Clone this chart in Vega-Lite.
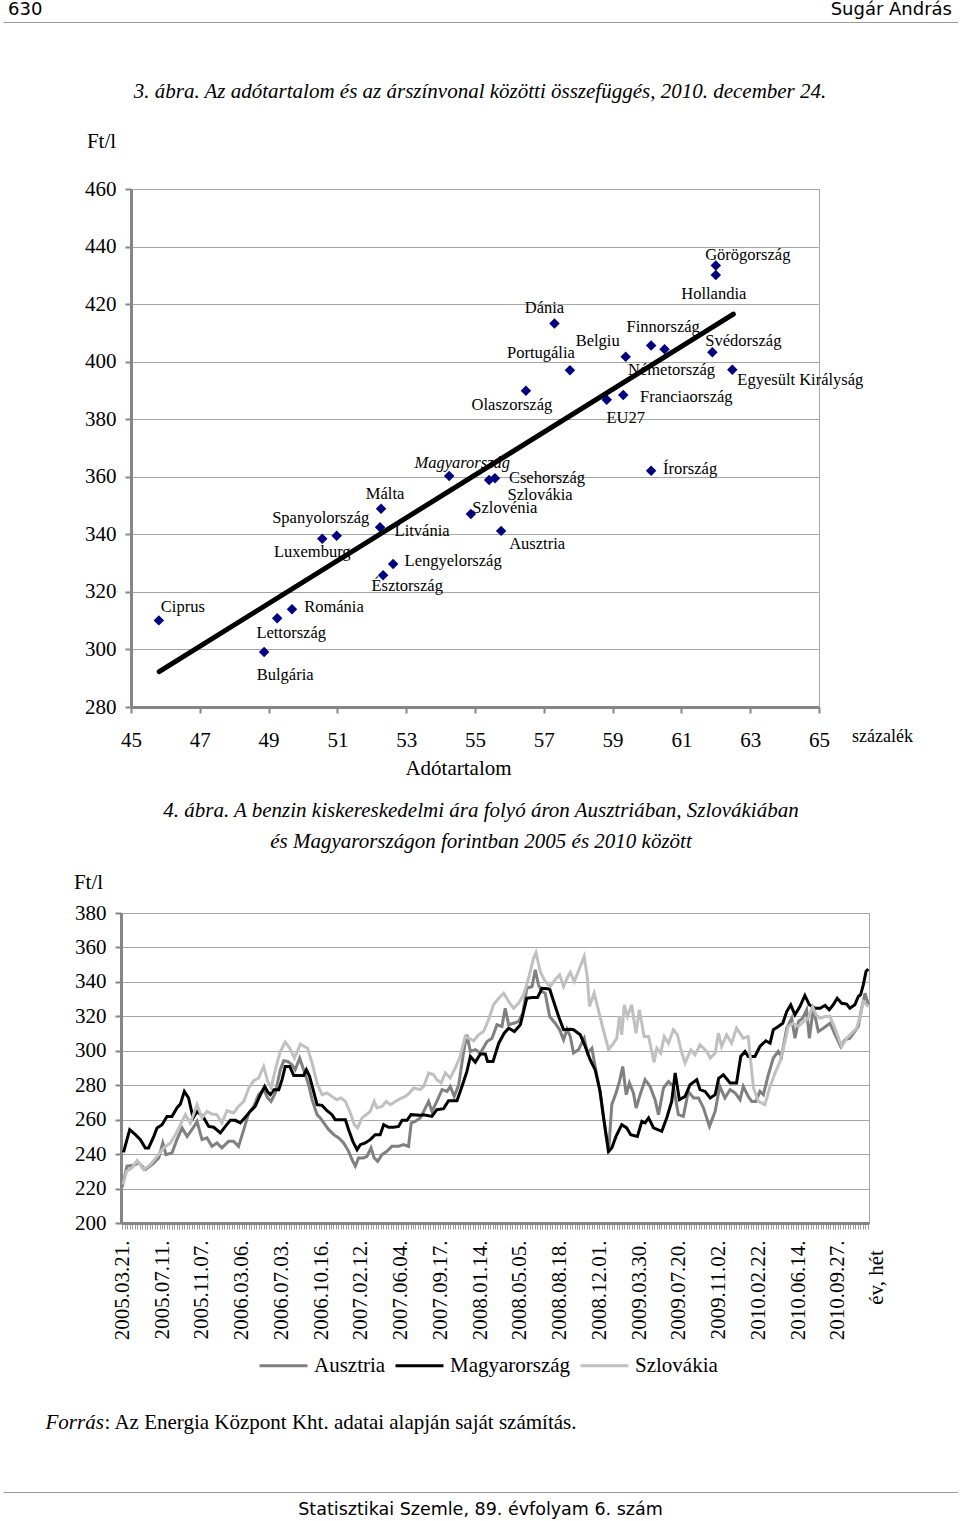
{
"$schema":"https://vega.github.io/schema/vega-lite/v6.json",
"background":"white",
"padding":{"left":3,"top":0,"right":0,"bottom":0},
"spacing":0,
"config":{
 "view":{"stroke":null},
 "axis":{"labelFont":"Liberation Serif","titleFont":"Liberation Serif","labelColor":"#000","titleColor":"#000","titleFontWeight":"normal","labelFontSize":21,"titleFontSize":21,"domainColor":"#868686","tickColor":"#868686","gridColor":"#a6a6a6","gridWidth":1},
 "title":{"font":"Liberation Serif","fontWeight":"normal","color":"#000","fontSize":21,"fontStyle":"italic"},
 "text":{"font":"Liberation Serif","fontSize":16.5,"color":"#000","baseline":"middle","align":"center"},
 "legend":{"labelFont":"Liberation Serif","labelFontSize":21,"labelColor":"#000"}
},
"datasets":{
 "trend":[{"x":45.82,"y":292.3},{"x":62.51,"y":416.5}],
 "countries":[
  {"c":"Ciprus","x":45.81,"y":310.1},{"c":"Lettország","x":49.25,"y":310.8},{"c":"Románia","x":49.68,"y":314.0},{"c":"Bulgária","x":48.87,"y":299.1},
  {"c":"Luxemburg","x":50.56,"y":338.5},{"c":"Spanyolország","x":50.98,"y":339.5},{"c":"Málta","x":52.27,"y":348.9},{"c":"Litvánia","x":52.24,"y":342.5},
  {"c":"Lengyelország","x":52.62,"y":329.7},{"c":"Észtország","x":52.33,"y":325.8},{"c":"Magyarország","x":54.25,"y":360.3},{"c":"Szlovénia","x":54.88,"y":347.1},
  {"c":"Szlovákia","x":55.41,"y":358.9},{"c":"Csehország","x":55.58,"y":359.5},{"c":"Ausztria","x":55.76,"y":341.2},{"c":"Írország","x":60.12,"y":362.1},
  {"c":"Görögország","x":62.0,"y":433.4},{"c":"Hollandia","x":62.0,"y":430.1},{"c":"Dánia","x":57.31,"y":413.3},{"c":"Portugália","x":57.76,"y":397.0},
  {"c":"Olaszország","x":56.48,"y":389.9},{"c":"Belgiu","x":59.38,"y":401.7},{"c":"Finnország","x":60.12,"y":405.6},{"c":"Németország","x":60.51,"y":404.3},
  {"c":"Svédország","x":61.9,"y":403.3},{"c":"Egyesült Királyság","x":62.48,"y":397.2},{"c":"EU27","x":58.83,"y":386.8},{"c":"Franciaország","x":59.31,"y":388.4}
 ],
 "aut":[{"i":0,"v":221},{"i":1.9,"v":233},{"i":4.6,"v":233.5},{"i":6.6,"v":234.9},{"i":9.3,"v":231},{"i":12,"v":233.9},{"i":14.7,"v":237.8},{"i":16.3,"v":246.5},{"i":17.6,"v":239.7},{"i":20,"v":240.7},{"i":22,"v":248.4},{"i":24.1,"v":255.2},{"i":26.1,"v":250.3},{"i":28.5,"v":255.2},{"i":30.1,"v":259},{"i":32.1,"v":248.4},{"i":34.1,"v":249.4},{"i":36.1,"v":244.5},{"i":38.1,"v":246.5},{"i":40.1,"v":243.6},{"i":42.8,"v":247.4},{"i":44.8,"v":247.4},{"i":46.8,"v":244.5},{"i":48.9,"v":254.2},{"i":50.9,"v":263.9},{"i":52.9,"v":267.7},{"i":54.9,"v":274.5},{"i":56.9,"v":277.4},{"i":58.6,"v":272.5},{"i":59.9,"v":270.6},{"i":61.6,"v":275.5},{"i":63.6,"v":289},{"i":65,"v":294.2},{"i":66.6,"v":293.8},{"i":68.3,"v":291.9},{"i":69.6,"v":289},{"i":71.4,"v":295.7},{"i":73,"v":289},{"i":75,"v":280.3},{"i":76.4,"v":271.6},{"i":78.4,"v":262.9},{"i":79.7,"v":261},{"i":81.1,"v":258.1},{"i":83.1,"v":254.2},{"i":85.1,"v":251.3},{"i":87.1,"v":249.4},{"i":89.1,"v":246.5},{"i":91.1,"v":241.6},{"i":92.8,"v":235.8},{"i":93.8,"v":233},{"i":95.1,"v":237.8},{"i":97.1,"v":237.8},{"i":98.5,"v":238.7},{"i":100.1,"v":243.6},{"i":101.4,"v":237.8},{"i":102.8,"v":235.8},{"i":104.5,"v":239.7},{"i":106.5,"v":241.6},{"i":108.5,"v":244.5},{"i":111.2,"v":244.5},{"i":113.2,"v":245.5},{"i":115.2,"v":244.5},{"i":116.3,"v":258.1},{"i":117.9,"v":259},{"i":119.9,"v":261},{"i":121.3,"v":264.8},{"i":123.3,"v":270.6},{"i":124.6,"v":264.8},{"i":126.6,"v":270.6},{"i":128.7,"v":277.4},{"i":130.7,"v":276.4},{"i":132,"v":279.3},{"i":133.6,"v":273.5},{"i":135.4,"v":280.3},{"i":137.4,"v":299.6},{"i":138.7,"v":309.3},{"i":140.1,"v":299.6},{"i":142.1,"v":300.6},{"i":144.1,"v":298.7},{"i":146.8,"v":305.4},{"i":148.8,"v":307.3},{"i":150.8,"v":315.1},{"i":152.8,"v":314.1},{"i":154.1,"v":324.7},{"i":155.5,"v":315.1},{"i":157.5,"v":316},{"i":159.5,"v":317},{"i":161.2,"v":321.8},{"i":162.8,"v":336.3},{"i":164.9,"v":337.3},{"i":166.2,"v":347},{"i":167.5,"v":338.3},{"i":168.9,"v":334.4},{"i":170.2,"v":333.4},{"i":172,"v":319.9},{"i":174.2,"v":316},{"i":176,"v":312.2},{"i":177.6,"v":306.4},{"i":179,"v":312.5},{"i":180.3,"v":308.3},{"i":181.6,"v":298.7},{"i":183.6,"v":300.6},{"i":185.9,"v":307.3},{"i":187.2,"v":298.7},{"i":189,"v":301.5},{"i":190.3,"v":290.9},{"i":192,"v":278.4},{"i":193.9,"v":259},{"i":195.7,"v":240.7},{"i":197,"v":268.7},{"i":198.7,"v":275.5},{"i":200.1,"v":282.2},{"i":201.4,"v":290.9},{"i":202.8,"v":274.5},{"i":204.1,"v":281.3},{"i":205.7,"v":275.5},{"i":206.8,"v":266.8},{"i":208.4,"v":274.5},{"i":210.4,"v":283.2},{"i":212.4,"v":279.3},{"i":214.4,"v":271.6},{"i":215.8,"v":262.9},{"i":217.8,"v":278.4},{"i":219.8,"v":282.2},{"i":221.8,"v":279.3},{"i":223.8,"v":262.9},{"i":225.8,"v":261.9},{"i":227.8,"v":276.4},{"i":229.9,"v":272.6},{"i":231.9,"v":272.6},{"i":233.9,"v":266.8},{"i":236.3,"v":256.1},{"i":238.6,"v":264.8},{"i":239.3,"v":270.6},{"i":240.5,"v":279.3},{"i":242.5,"v":272.6},{"i":244.6,"v":277.4},{"i":246.6,"v":275.5},{"i":248.6,"v":271.6},{"i":249.9,"v":279.3},{"i":251.9,"v":273.5},{"i":253.3,"v":270.6},{"i":255,"v":270.6},{"i":256.6,"v":276.4},{"i":258,"v":274.5},{"i":260,"v":286.1},{"i":262,"v":295.8},{"i":264,"v":299.6},{"i":265.3,"v":296.7},{"i":267.4,"v":313.1},{"i":269.4,"v":318.9},{"i":270.7,"v":307.3},{"i":272.1,"v":317},{"i":273.8,"v":318.9},{"i":275.4,"v":323.8},{"i":276.5,"v":307.3},{"i":278.1,"v":324.7},{"i":280.1,"v":311.2},{"i":282.1,"v":313.1},{"i":284.8,"v":316},{"i":287.2,"v":308.3},{"i":289.1,"v":302.5},{"i":290.8,"v":306.4},{"i":292.8,"v":307.3},{"i":294.8,"v":311.2},{"i":296.2,"v":314.1},{"i":297.5,"v":324.7},{"i":298.9,"v":333.4},{"i":300.2,"v":326.7}],
 "hun":[{"i":0.5,"v":241},{"i":3,"v":254.2},{"i":5.3,"v":251.3},{"i":7.3,"v":248.4},{"i":9.3,"v":243.6},{"i":10.6,"v":243.6},{"i":12.7,"v":250.3},{"i":14,"v":255.2},{"i":16,"v":257.1},{"i":18,"v":261.9},{"i":20,"v":261.9},{"i":22,"v":266.8},{"i":23.4,"v":269.1},{"i":25,"v":276.4},{"i":26.7,"v":272.6},{"i":28.5,"v":261},{"i":30.1,"v":264.8},{"i":32.5,"v":261.9},{"i":34.8,"v":256.1},{"i":36.8,"v":255.6},{"i":39.5,"v":252.3},{"i":41.5,"v":256.1},{"i":43.5,"v":259.6},{"i":45.5,"v":259.6},{"i":47.5,"v":258.1},{"i":49.5,"v":261.4},{"i":51.5,"v":264.8},{"i":53.5,"v":267.7},{"i":55.6,"v":274.5},{"i":57.3,"v":279.3},{"i":58.6,"v":276},{"i":59.6,"v":274.5},{"i":61,"v":277.4},{"i":63,"v":277.4},{"i":64.3,"v":283.2},{"i":65.6,"v":290.9},{"i":67.4,"v":290.9},{"i":69,"v":285.7},{"i":73,"v":285.7},{"i":74.1,"v":289},{"i":75.4,"v":285.1},{"i":77,"v":276.4},{"i":78.4,"v":268.7},{"i":80.4,"v":268.3},{"i":82.4,"v":265.2},{"i":84.4,"v":262.9},{"i":85.7,"v":260},{"i":89.8,"v":260},{"i":91.1,"v":254.2},{"i":92.8,"v":247.4},{"i":94.5,"v":242.6},{"i":95.8,"v":245.5},{"i":97.8,"v":246.5},{"i":99.8,"v":248.4},{"i":101.8,"v":251.3},{"i":103.8,"v":251.3},{"i":105.2,"v":257.1},{"i":107.2,"v":255.6},{"i":109.2,"v":255.6},{"i":111.2,"v":256.1},{"i":112.6,"v":259.6},{"i":114.6,"v":259.6},{"i":116.2,"v":262.9},{"i":119.9,"v":262.5},{"i":121.3,"v":262.9},{"i":124.6,"v":261.9},{"i":126.6,"v":265.8},{"i":129.3,"v":266.4},{"i":131.3,"v":271},{"i":134.7,"v":271},{"i":136.7,"v":279.3},{"i":138.7,"v":288},{"i":140.1,"v":296.7},{"i":142.1,"v":293.4},{"i":144.1,"v":298.1},{"i":146.1,"v":298.1},{"i":147,"v":293.8},{"i":149.2,"v":293.8},{"i":151.5,"v":304.4},{"i":153.7,"v":310.2},{"i":155.5,"v":313.1},{"i":157.8,"v":311.2},{"i":160.2,"v":315.1},{"i":162.8,"v":330.5},{"i":164.9,"v":330.9},{"i":167.1,"v":330.9},{"i":168.9,"v":336.3},{"i":172,"v":335.9},{"i":173.6,"v":328.6},{"i":175.6,"v":319.9},{"i":177.6,"v":312.2},{"i":180.3,"v":312.5},{"i":181.6,"v":312.2},{"i":184.3,"v":309.3},{"i":186.3,"v":302.5},{"i":188.3,"v":294.8},{"i":190.3,"v":289},{"i":192.3,"v":276.4},{"i":193.7,"v":261},{"i":195.7,"v":241.6},{"i":197,"v":243.6},{"i":198.7,"v":250.3},{"i":201,"v":257.1},{"i":203,"v":255.2},{"i":204.6,"v":251.3},{"i":207.3,"v":250.3},{"i":209.1,"v":259},{"i":210.4,"v":258.1},{"i":211.8,"v":261},{"i":213.8,"v":255.2},{"i":217.1,"v":253.2},{"i":219.1,"v":261},{"i":221.1,"v":270.6},{"i":222.5,"v":287.1},{"i":224.2,"v":271.6},{"i":226.5,"v":273.5},{"i":228.5,"v":280.3},{"i":231.2,"v":283.2},{"i":232.5,"v":277.4},{"i":234.5,"v":276.4},{"i":236.6,"v":272.6},{"i":238.6,"v":274.5},{"i":240,"v":284},{"i":241.9,"v":286.1},{"i":244.6,"v":281.3},{"i":247.2,"v":281.3},{"i":248.9,"v":296.7},{"i":250.6,"v":299.6},{"i":251.9,"v":296.7},{"i":254.6,"v":296.7},{"i":256.6,"v":302.5},{"i":259,"v":305.8},{"i":260.7,"v":304.4},{"i":262,"v":312.2},{"i":264,"v":314.1},{"i":265.8,"v":316},{"i":267.4,"v":322.8},{"i":269,"v":326.7},{"i":270.7,"v":320.9},{"i":272.7,"v":325.7},{"i":274.7,"v":332.1},{"i":276.5,"v":326.7},{"i":278.8,"v":324.7},{"i":280.8,"v":324.7},{"i":282.8,"v":326.3},{"i":284.5,"v":323.8},{"i":286.1,"v":326.7},{"i":287.7,"v":330.5},{"i":289.5,"v":327.6},{"i":291.5,"v":327.1},{"i":292.8,"v":324.7},{"i":294.8,"v":326.7},{"i":296.2,"v":331.5},{"i":297.1,"v":332.5},{"i":298.2,"v":338.3},{"i":299.3,"v":346},{"i":300.2,"v":347.5}],
 "svk":[{"i":0.3,"v":222.3},{"i":1.7,"v":230},{"i":3.9,"v":232},{"i":6,"v":236.2},{"i":8.6,"v":231},{"i":11.3,"v":233.9},{"i":14,"v":238.7},{"i":16.7,"v":243.6},{"i":19.4,"v":246.5},{"i":21.4,"v":251.3},{"i":23.4,"v":257.1},{"i":25.4,"v":262.9},{"i":27.4,"v":258.1},{"i":30.1,"v":268.7},{"i":32.1,"v":261},{"i":34.1,"v":264.8},{"i":36.1,"v":263.3},{"i":38.1,"v":262.9},{"i":40.1,"v":258.1},{"i":42.2,"v":265.2},{"i":44.8,"v":263.9},{"i":46.8,"v":267.7},{"i":48.9,"v":270.6},{"i":50.9,"v":278.4},{"i":52.9,"v":282.6},{"i":54.9,"v":284.2},{"i":56.9,"v":290.9},{"i":58.6,"v":282},{"i":59.9,"v":278.4},{"i":61.6,"v":289},{"i":63.6,"v":299.6},{"i":65.6,"v":305},{"i":67.4,"v":301.5},{"i":69.3,"v":295.7},{"i":71.7,"v":303.9},{"i":73.3,"v":302.5},{"i":74.6,"v":301.5},{"i":76.4,"v":292.8},{"i":78.4,"v":281.3},{"i":80.4,"v":274.5},{"i":82.4,"v":275.5},{"i":84.4,"v":273.5},{"i":86.4,"v":271.6},{"i":88,"v":272.6},{"i":89.8,"v":270.6},{"i":91.8,"v":263.9},{"i":93.4,"v":257.1},{"i":94.7,"v":255.2},{"i":96.5,"v":261},{"i":98.5,"v":263.3},{"i":99.8,"v":264.8},{"i":101.4,"v":270.6},{"i":102.5,"v":266.8},{"i":104.5,"v":267.7},{"i":106.2,"v":270.6},{"i":107.9,"v":268.7},{"i":109.9,"v":270.6},{"i":111.9,"v":272.2},{"i":113.9,"v":273.5},{"i":115.6,"v":275.5},{"i":117.3,"v":278.4},{"i":119.9,"v":277.4},{"i":121.3,"v":279.3},{"i":123.3,"v":287.1},{"i":125.3,"v":286.1},{"i":126.6,"v":283.2},{"i":128.3,"v":281.3},{"i":130,"v":287.1},{"i":132,"v":284.2},{"i":134,"v":290},{"i":136,"v":296.7},{"i":138,"v":308.3},{"i":139.4,"v":307.3},{"i":141.4,"v":305.8},{"i":143.4,"v":309.3},{"i":145.4,"v":311.2},{"i":147.4,"v":318},{"i":149.4,"v":326.7},{"i":151.5,"v":330.5},{"i":153.5,"v":333.4},{"i":155.5,"v":328.6},{"i":157.5,"v":324.7},{"i":159.5,"v":327.6},{"i":161.5,"v":332.5},{"i":163.5,"v":342.1},{"i":165.5,"v":353.7},{"i":166.5,"v":357},{"i":168.2,"v":346},{"i":170.2,"v":340.2},{"i":172.2,"v":337.3},{"i":174.2,"v":341.2},{"i":176,"v":344.1},{"i":177.6,"v":337.3},{"i":179,"v":342.1},{"i":180.3,"v":345.5},{"i":181.9,"v":340.2},{"i":184.3,"v":348.9},{"i":185.9,"v":354.7},{"i":187.2,"v":342.1},{"i":188,"v":325.7},{"i":189.9,"v":333.4},{"i":191.6,"v":323.8},{"i":193.4,"v":313.1},{"i":195.7,"v":300.6},{"i":197.7,"v":304.4},{"i":199,"v":307.3},{"i":200.1,"v":319.9},{"i":201,"v":309.3},{"i":202,"v":326.7},{"i":203.3,"v":319.9},{"i":205,"v":326.7},{"i":206.7,"v":310.2},{"i":208.1,"v":323.8},{"i":210,"v":308.3},{"i":211.8,"v":308.3},{"i":214,"v":293.4},{"i":215.1,"v":301.5},{"i":216.7,"v":298.7},{"i":218.1,"v":308.3},{"i":219.8,"v":304.4},{"i":221.8,"v":312.2},{"i":223.4,"v":309.3},{"i":225.2,"v":298.7},{"i":226.5,"v":292.9},{"i":228.8,"v":300.6},{"i":230.5,"v":297.7},{"i":232.5,"v":303.5},{"i":235.2,"v":299.6},{"i":236.6,"v":295.8},{"i":238.6,"v":298.7},{"i":239.9,"v":310.2},{"i":241.2,"v":302.5},{"i":243.2,"v":309.3},{"i":245.2,"v":304.4},{"i":247.2,"v":313.1},{"i":249.9,"v":307.3},{"i":251.9,"v":308.3},{"i":254,"v":278.4},{"i":256,"v":270.6},{"i":258.6,"v":268.7},{"i":260.7,"v":279.3},{"i":262.7,"v":287.1},{"i":264.7,"v":293.8},{"i":266.7,"v":305.4},{"i":268,"v":314.1},{"i":270,"v":316},{"i":272.1,"v":314.1},{"i":274.3,"v":317},{"i":276.1,"v":318.9},{"i":277.8,"v":325.7},{"i":279.2,"v":320.9},{"i":280.8,"v":318.9},{"i":282.8,"v":319.9},{"i":284.8,"v":320},{"i":286.8,"v":313.1},{"i":289.5,"v":302.5},{"i":291.5,"v":307.3},{"i":293.5,"v":310.2},{"i":295.5,"v":313.1},{"i":297.1,"v":320.9},{"i":298.2,"v":328.6},{"i":299.5,"v":326.7},{"i":300.4,"v":325.7}]
},
"vconcat":[
 {
  "width":955,"height":16,
  "data":{"values":[{"side":"left","t":"630"},{"side":"right","t":"Sugár András"}]},
  "encoding":{
   "x":{"field":"side","type":"nominal","scale":{"type":"point","domain":["left","right"],"padding":0},"axis":{"domain":true,"domainColor":"#9a9a9a","domainWidth":1,"ticks":false,"labels":false,"grid":false,"title":null,"offset":6}},
   "text":{"field":"t"}
  },
  "layer":[
   {"transform":[{"filter":"datum.side==='left'"}],"mark":{"type":"text","align":"left","baseline":"middle","dx":5,"dy":2,"font":"DejaVu Sans","fontSize":18}},
   {"transform":[{"filter":"datum.side==='right'"}],"mark":{"type":"text","align":"right","baseline":"middle","dx":-6,"dy":2,"font":"DejaVu Sans","fontSize":18}}
  ]
 },
 {"width":1,"height":58,"data":{"values":[]},"mark":"point"},
 {
  "spacing":0,
  "hconcat":[
   {"width":81,"height":1,"data":{"values":[]},"mark":"point"},
   {
    "width":688,"height":518,
    "view":{"stroke":"#a6a6a6"},
    "title":{"text":"3. ábra. Az adótartalom és az árszínvonal közötti összefüggés, 2010. december 24.","anchor":"middle","frame":"group","offset":28,"dx":5},
    "encoding":{"x":{"field":"x","type":"quantitative","scale":{"domain":[45,65],"nice":false,"zero":false},"axis":{"values":[45,47,49,51,53,55,57,59,61,63,65],"grid":false,"domainWidth":3,"tickSize":6,"tickWidth":2,"labelPadding":16,"labelFlush":false,"title":"Adótartalom","titleX":327,"titleY":61,"titleAlign":"center","titleBaseline":"middle"}}},
    "layer":[
     {
      "data":{"name":"countries"},
      "encoding":{"y":{"field":"y","type":"quantitative","scale":{"domain":[280,460],"nice":false,"zero":false},"axis":{"orient":"left","values":[280,300,320,340,360,380,400,420,440,460],"grid":true,"domainWidth":3,"tickSize":6,"tickWidth":2,"labelPadding":9,"title":"Ft/l","titleAngle":0,"titleX":-30,"titleY":-48,"titleAlign":"center","titleBaseline":"middle"}}},
      "layer":[
       {"mark":{"type":"point","shape":"diamond","filled":true,"color":"#000080","opacity":1,"size":110}},
       {"encoding":{"text":{"field":"c"}},"layer":[
        {"transform":[{"filter":"datum.c==='Görögország'"}],"mark":{"type":"text","dx":32,"dy":-11}},
        {"transform":[{"filter":"datum.c==='Hollandia'"}],"mark":{"type":"text","dx":-2,"dy":19}},
        {"transform":[{"filter":"datum.c==='Dánia'"}],"mark":{"type":"text","dx":-10,"dy":-15}},
        {"transform":[{"filter":"datum.c==='Portugália'"}],"mark":{"type":"text","dx":-29,"dy":-17}},
        {"transform":[{"filter":"datum.c==='Olaszország'"}],"mark":{"type":"text","dx":-14,"dy":14}},
        {"transform":[{"filter":"datum.c==='Belgiu'"}],"mark":{"type":"text","dx":-28,"dy":-16}},
        {"transform":[{"filter":"datum.c==='Finnország'"}],"mark":{"type":"text","dx":12,"dy":-19}},
        {"transform":[{"filter":"datum.c==='Németország'"}],"mark":{"type":"text","dx":7,"dy":21}},
        {"transform":[{"filter":"datum.c==='Svédország'"}],"mark":{"type":"text","dx":31,"dy":-11}},
        {"transform":[{"filter":"datum.c==='Egyesült Királyság'"}],"mark":{"type":"text","dx":68,"dy":10}},
        {"transform":[{"filter":"datum.c==='Franciaország'"}],"mark":{"type":"text","dx":63,"dy":2}},
        {"transform":[{"filter":"datum.c==='EU27'"}],"mark":{"type":"text","dx":19,"dy":18}},
        {"transform":[{"filter":"datum.c==='Írország'"}],"mark":{"type":"text","dx":39,"dy":-2}},
        {"transform":[{"filter":"datum.c==='Magyarország'"}],"mark":{"type":"text","dx":13,"dy":-13,"fontStyle":"italic"}},
        {"transform":[{"filter":"datum.c==='Csehország'"}],"mark":{"type":"text","dx":52,"dy":0}},
        {"transform":[{"filter":"datum.c==='Szlovákia'"}],"mark":{"type":"text","dx":51,"dy":15}},
        {"transform":[{"filter":"datum.c==='Szlovénia'"}],"mark":{"type":"text","dx":34,"dy":-6}},
        {"transform":[{"filter":"datum.c==='Ausztria'"}],"mark":{"type":"text","dx":36,"dy":13}},
        {"transform":[{"filter":"datum.c==='Málta'"}],"mark":{"type":"text","dx":4,"dy":-15}},
        {"transform":[{"filter":"datum.c==='Spanyolország'"}],"mark":{"type":"text","dx":-16,"dy":-18}},
        {"transform":[{"filter":"datum.c==='Luxemburg'"}],"mark":{"type":"text","dx":-10,"dy":13}},
        {"transform":[{"filter":"datum.c==='Litvánia'"}],"mark":{"type":"text","dx":42,"dy":4}},
        {"transform":[{"filter":"datum.c==='Lengyelország'"}],"mark":{"type":"text","dx":60,"dy":-3}},
        {"transform":[{"filter":"datum.c==='Észtország'"}],"mark":{"type":"text","dx":24,"dy":11}},
        {"transform":[{"filter":"datum.c==='Ciprus'"}],"mark":{"type":"text","dx":24,"dy":-13}},
        {"transform":[{"filter":"datum.c==='Románia'"}],"mark":{"type":"text","dx":42,"dy":-2}},
        {"transform":[{"filter":"datum.c==='Lettország'"}],"mark":{"type":"text","dx":14,"dy":15}},
        {"transform":[{"filter":"datum.c==='Bulgária'"}],"mark":{"type":"text","dx":21,"dy":23}}
       ]}
      ]
     },
     {
      "data":{"name":"trend"},
      "mark":{"type":"line","color":"#000","strokeWidth":5,"strokeCap":"round"},
      "encoding":{"y":{"field":"y","type":"quantitative","scale":{"domain":[280,460],"nice":false,"zero":false},"axis":{"orient":"right","title":"százalék","titleAngle":0,"titleX":63,"titleY":547,"titleAlign":"center","titleBaseline":"middle","titleFontSize":18,"domain":false,"ticks":false,"labels":false,"grid":false}}}
     }
    ],
    "resolve":{"axis":{"y":"independent"}}
   }
  ]
 },
 {"width":1,"height":20,"data":{"values":[]},"mark":"point"},
 {
  "spacing":0,
  "hconcat":[
   {"width":69,"height":1,"data":{"values":[]},"mark":"point"},
   {
    "width":748,"height":310,
    "view":{"stroke":"#a6a6a6"},
    "title":{"text":["4. ábra. A benzin kiskereskedelmi ára folyó áron Ausztriában, Szlovákiában","és Magyarországon forintban 2005 és 2010 között"],"anchor":"middle","frame":"group","offset":19,"dx":-14,"lineHeight":31},
    "encoding":{
     "x":{"field":"i","type":"quantitative","scale":{"domain":[-0.5,300.5],"nice":false,"zero":false},"axis":{"tickCount":301,"labelExpr":"datum.value % 16 === 0 ? ['2005.03.21.','2005.07.11.','2005.11.07.','2006.03.06.','2006.07.03.','2006.10.16.','2007.02.12.','2007.06.04.','2007.09.17.','2008.01.14.','2008.05.05.','2008.08.18.','2008.12.01.','2009.03.30.','2009.07.20.','2009.11.02.','2010.02.22.','2010.06.14.','2010.09.27.'][datum.value / 16] : ''","labelAngle":270,"labelAlign":"right","labelBaseline":"middle","labelPadding":11,"labelOverlap":false,"labelFlush":false,"labelBound":false,"tickSize":6,"tickWidth":1,"tickColor":"#9a9a9a","domainWidth":3,"grid":false,"title":"év, hét","titleAngle":270,"titleX":755,"titleY":54,"titleAlign":"center","titleBaseline":"middle"}},
     "y":{"field":"v","type":"quantitative","scale":{"domain":[200,380],"nice":false,"zero":false},"axis":{"values":[200,220,240,260,280,300,320,340,360,380],"grid":true,"domainWidth":3,"tickSize":6,"tickWidth":2,"labelPadding":9,"title":"Ft/l","titleAngle":0,"titleX":-33,"titleY":-31,"titleAlign":"center","titleBaseline":"middle"}}
    },
    "layer":[
     {"data":{"name":"aut"},"mark":{"type":"line","strokeWidth":3},"encoding":{"color":{"datum":"Ausztria","type":"nominal","scale":{"domain":["Ausztria","Magyarország","Szlovákia"],"range":["#808080","#000000","#c0c0c0"]},"legend":{"orient":"none","legendX":255,"legendY":1340,"direction":"horizontal","title":null,"symbolType":"stroke","symbolSize":2304,"symbolStrokeWidth":3,"labelOffset":5,"columnPadding":3,"labelLimit":400}}}},
     {"data":{"name":"hun"},"mark":{"type":"line","strokeWidth":3},"encoding":{"color":{"datum":"Magyarország","type":"nominal"}}},
     {"data":{"name":"svk"},"mark":{"type":"line","strokeWidth":3},"encoding":{"color":{"datum":"Szlovákia","type":"nominal"}}}
    ]
   }
  ]
 },
 {"width":1,"height":71,"data":{"values":[]},"mark":"point"},
 {
  "spacing":0,
  "hconcat":[
   {"width":42,"height":1,"data":{"values":[]},"mark":"point"},
   {
    "width":1,"height":20,
    "data":{"values":[{"part":"lead","t":"Forrás"},{"part":"rest","t":": Az Energia Központ Kht. adatai alapján saját számítás."}]},
    "encoding":{"text":{"field":"t"}},
    "layer":[
     {"transform":[{"filter":"datum.part==='lead'"}],"mark":{"type":"text","align":"left","baseline":"middle","fontStyle":"italic","fontSize":21}},
     {"transform":[{"filter":"datum.part==='rest'"}],"mark":{"type":"text","align":"left","baseline":"middle","fontSize":21,"dx":59}}
    ]
   }
  ]
 },
 {"width":1,"height":59,"data":{"values":[]},"mark":"point"},
 {
  "width":955,"height":36,
  "data":{"values":[{"pos":"mid","t":"Statisztikai Szemle, 89. évfolyam 6. szám"}]},
  "mark":{"type":"text","baseline":"middle","font":"DejaVu Sans","fontSize":17.5},
  "encoding":{
   "x":{"field":"pos","type":"nominal","scale":{"type":"point","domain":["mid"],"padding":0.5},"axis":{"orient":"top","domain":true,"domainColor":"#9a9a9a","domainWidth":1,"ticks":false,"labels":false,"grid":false,"title":null}},
   "text":{"field":"t"}
  }
 }
]
}
